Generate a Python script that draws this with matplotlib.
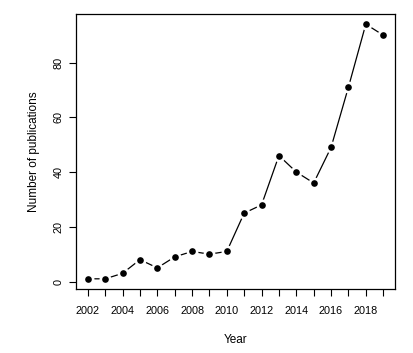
import matplotlib
matplotlib.use("Agg")
import matplotlib.pyplot as plt

# publications per year
years = [2002, 2003, 2004, 2005, 2006, 2007, 2008, 2009, 2010,
         2011, 2012, 2013, 2014, 2015, 2016, 2017, 2018, 2019]
counts = [1, 1, 3, 8, 5, 9, 11, 10, 11, 25, 28, 46, 40, 36, 49, 71, 94, 90]
yticks = [0, 20, 40, 60, 80]

plt.rcParams['font.family'] = ['Liberation Sans', 'DejaVu Sans']

fig = plt.figure(figsize=(4.13, 3.53), dpi=100)
ax = fig.add_axes([76 / 413, 1 - 289 / 353, (395 - 76) / 413, (289 - 14) / 353])

# R style "b" plot: line with gaps around the points
ax.plot(years, counts, color='black', lw=0.9, zorder=1)
ax.plot(years, counts, 'o', color='white', ms=8.6, mec='none', zorder=2)
ax.plot(years, counts, 'o', color='black', ms=4.8, mec='none', zorder=3)

xr = years[-1] - years[0]
ax.set_xlim(years[0] - 0.04 * xr, years[-1] + 0.04 * xr)
yr = max(counts) - min(counts)
ax.set_ylim(min(counts) - 0.04 * yr, max(counts) + 0.04 * yr)

ax.set_xticks(years)
ax.set_xticklabels([str(y) if y % 2 == 0 else '' for y in years])
ax.set_yticks(yticks)
ax.set_yticklabels([str(v) for v in yticks], rotation=90, va='center')

ax.tick_params(axis='both', direction='out', length=5, width=0.8, labelsize=7.8)
ax.tick_params(axis='x', pad=7)
ax.tick_params(axis='y', pad=4)
for s in ax.spines.values():
    s.set_linewidth(0.9)

ax.set_xlabel('Year', fontsize=8.5, labelpad=13)
ax.set_ylabel('Number of publications', fontsize=8.5, labelpad=10)

fig.savefig('out.png', dpi=100)
